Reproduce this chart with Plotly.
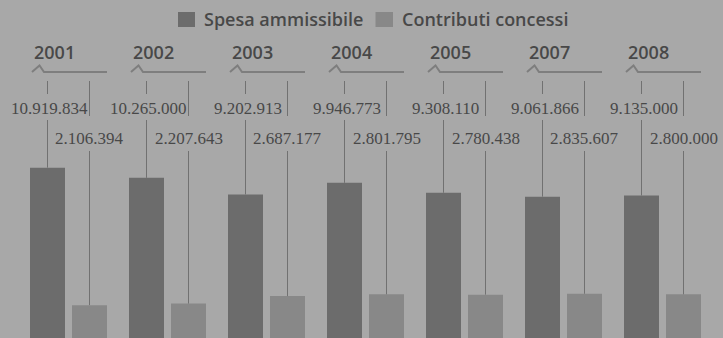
import plotly.graph_objects as go

# ---- data ----
years = ["2001", "2002", "2003", "2004", "2005", "2007", "2008"]
spesa = [10919834, 10265000, 9202913, 9946773, 9308110, 9061866, 9135000]
contributi = [2106394, 2207643, 2687177, 2801795, 2780438, 2835607, 2800000]
series_names = ["Spesa ammissibile", "Contributi concessi"]

# ---- layout constants ----
W, H = 723, 338
BG = "#a8a8a8"
DARK = "#6c6c6c"
LIGHT = "#888888"
TEXT = "#484848"
LINE = "#717171"
SANS = "Open Sans"
SERIF = "Liberation Serif"

X0_PX, STEP_PX = 68.5, 99.0        # pixel centre of first group, group spacing
BASE_PX, PX_PER_UNIT = 338.0, 15.6e-6


def xd(px):
    return (px - X0_PX) / STEP_PX


def yd(py):
    return (BASE_PX - py) / PX_PER_UNIT


BAR_W = 35 / STEP_PX
OFF_D = -38.5 / STEP_PX
OFF_L = 3.5 / STEP_PX
CD = OFF_D + BAR_W / 2   # centre offset of dark bar
CL = OFF_L + BAR_W / 2   # centre offset of light bar

xs = list(range(len(years)))


def fmt(v):
    return f"{v:,}".replace(",", ".")


fig = go.Figure()
fig.add_bar(x=xs, y=spesa, width=BAR_W, offset=OFF_D, name=series_names[0],
            marker=dict(color=DARK, line=dict(width=0)), hoverinfo="skip")
fig.add_bar(x=xs, y=contributi, width=BAR_W, offset=OFF_L, name=series_names[1],
            marker=dict(color=LIGHT, line=dict(width=0)), hoverinfo="skip")

# leader lines
lx, ly = [], []
for i, (s, c) in enumerate(zip(spesa, contributi)):
    xdk, xlt = i + CD, i + CL
    lx += [xdk, xdk, None, xdk, xdk, None]
    ly += [yd(81), yd(94), None, yd(120), s, None]
    lx += [xlt, xlt, None, xlt, xlt, None]
    ly += [yd(81), yd(116), None, yd(151), c, None]
fig.add_scatter(x=lx, y=ly, mode="lines", line=dict(color=LINE, width=1),
                hoverinfo="skip", showlegend=False)

# year brackets
bx, by = [], []
for i in xs:
    bx += [i + (32 - 68.5) / STEP_PX, i + (39.5 - 68.5) / STEP_PX,
           i + (44 - 68.5) / STEP_PX, i + (107 - 68.5) / STEP_PX, None]
    by += [yd(72), yd(65.5), yd(72), yd(72), None]
fig.add_scatter(x=bx, y=by, mode="lines", line=dict(color="#7e7e7e", width=2),
                hoverinfo="skip", showlegend=False)

annotations = []
for i, (yr, s, c) in enumerate(zip(years, spesa, contributi)):
    annotations.append(dict(x=i + OFF_D, y=yd(52), text=yr, xanchor="left",
                            yanchor="middle", xshift=2, showarrow=False,
                            font=dict(family=SANS, size=18, color=TEXT, weight=600)))
    annotations.append(dict(x=i + CD, y=yd(108), text=fmt(s), xanchor="center",
                            yanchor="middle", xshift=2, showarrow=False,
                            font=dict(family=SERIF, size=17, color=TEXT)))
    annotations.append(dict(x=i + CL, y=yd(138), text=fmt(c), xanchor="center",
                            yanchor="middle", showarrow=False,
                            font=dict(family=SERIF, size=17, color=TEXT)))

# legend (manual)
shapes = []
for (x0, x1, tx, col, name) in [(178, 195, 202, DARK, series_names[0]),
                                (375.5, 393, 400, LIGHT, series_names[1])]:
    shapes.append(dict(type="rect", xref="x", yref="y", x0=xd(x0), x1=xd(x1),
                       y0=yd(27), y1=yd(12), fillcolor=col, line=dict(width=0)))
    annotations.append(dict(x=xd(tx), y=yd(19), text=name, xanchor="left",
                            yanchor="middle", showarrow=False,
                            font=dict(family=SANS, size=18, color=TEXT, weight=600)))

fig.update_layout(
    width=W, height=H,
    margin=dict(l=0, r=0, t=0, b=0),
    paper_bgcolor=BG, plot_bgcolor=BG,
    barmode="overlay",
    showlegend=False,
    xaxis=dict(range=[xd(0), xd(W)], visible=False, fixedrange=True),
    yaxis=dict(range=[yd(H), yd(0)], visible=False, fixedrange=True),
    annotations=annotations,
    shapes=shapes,
)

fig.write_html("out.html")
